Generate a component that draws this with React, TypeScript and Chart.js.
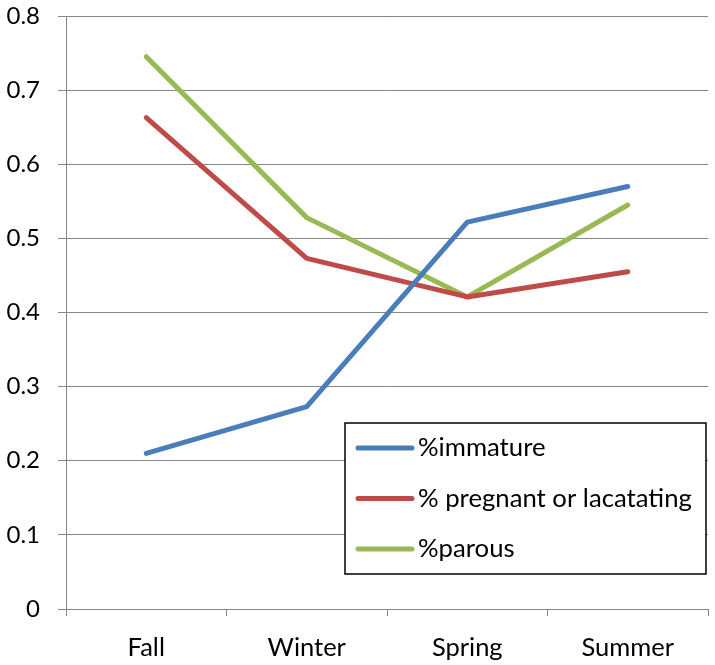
import React, { useEffect, useRef } from "react";
import { Chart, registerables } from "chart.js";

Chart.register(...registerables);

const categories = ["Fall", "Winter", "Spring", "Summer"];
const immature = [0.21, 0.273, 0.522, 0.57];
const pregnant = [0.663, 0.473, 0.421, 0.455];
const parous = [0.745, 0.528, 0.421, 0.545];
const seriesNames = ["%immature", "% pregnant or lacatating", "%parous"];
const seriesColors = ["#4A7EBB", "#BE4B48", "#98B954"];
const yTicks = { min: 0, max: 0.8, step: 0.1 };

const FONT = "Lato, 'Open Sans', sans-serif";

const legendBox = {
  id: "legendBox",
  afterDraw(chart: any) {
    const ctx = chart.ctx;
    const x0 = 345, y0 = 423, w = 361, h = 151;
    ctx.save();
    ctx.fillStyle = "#ffffff";
    ctx.fillRect(x0, y0, w, h);
    ctx.strokeStyle = "#000000";
    ctx.lineWidth = 1.5;
    ctx.strokeRect(x0, y0, w, h);
    chart.data.datasets.forEach((ds: any, i: number) => {
      const y = 448 + i * 50.5;
      ctx.strokeStyle = ds.borderColor;
      ctx.lineWidth = 5;
      ctx.lineCap = "round";
      ctx.beginPath();
      ctx.moveTo(358, y);
      ctx.lineTo(412, y);
      ctx.stroke();
      ctx.fillStyle = "#000000";
      ctx.font = `25.7px ${FONT}`;
      ctx.textBaseline = "middle";
      ctx.textAlign = "left";
      ctx.fillText(ds.label, 418, y);
    });
    ctx.restore();
  },
};

export default function App() {
  const ref = useRef<HTMLCanvasElement>(null);
  useEffect(() => {
    if (!ref.current) return;
    const data = [immature, pregnant, parous];
    const chart = new Chart(ref.current, {
      type: "line",
      data: {
        labels: categories,
        datasets: data.map((d, i) => ({
          label: seriesNames[i],
          data: d,
          borderColor: seriesColors[i],
          backgroundColor: seriesColors[i],
          borderWidth: 5,
          pointRadius: 0,
          tension: 0,
          borderCapStyle: "round",
          borderJoinStyle: "round",
        })),
      },
      options: {
        responsive: false,
        animation: false,
        layout: { padding: { top: 16, right: 7, left: 0, bottom: 0 } },
        plugins: { legend: { display: false }, tooltip: { enabled: false } },
        scales: {
          x: {
            offset: true,
            grid: {
              offset: true,
              drawOnChartArea: false,
              drawTicks: true,
              tickLength: 7,
              color: "#868686",
            },
            border: { color: "#868686" },
            ticks: { color: "#000", font: { family: FONT, size: 25.5 }, padding: 16 },
            afterFit(scale: any) {
              scale.height = 56;
              scale.paddingLeft = 0;
              scale.paddingRight = 0;
            },
          },
          y: {
            min: yTicks.min,
            max: yTicks.max,
            ticks: {
              stepSize: yTicks.step,
              color: "#000",
              font: { family: FONT, size: 24 },
              padding: 18,
              callback: (v: any) => String(Math.round(Number(v) * 10) / 10),
            },
            grid: { color: "#868686", tickLength: 8 },
            border: { color: "#868686" },
            afterFit(scale: any) {
              scale.width = 66;
              scale.paddingTop = 0;
              scale.paddingBottom = 0;
            },
          },
        },
      },
      plugins: [legendBox],
    });
    return () => chart.destroy();
  }, []);
  return (
    <div style={{ position: "fixed", left: 0, top: 0, width: 715, height: 665, background: "#fff" }}>
      <canvas ref={ref} width={715} height={665} />
    </div>
  );
}
